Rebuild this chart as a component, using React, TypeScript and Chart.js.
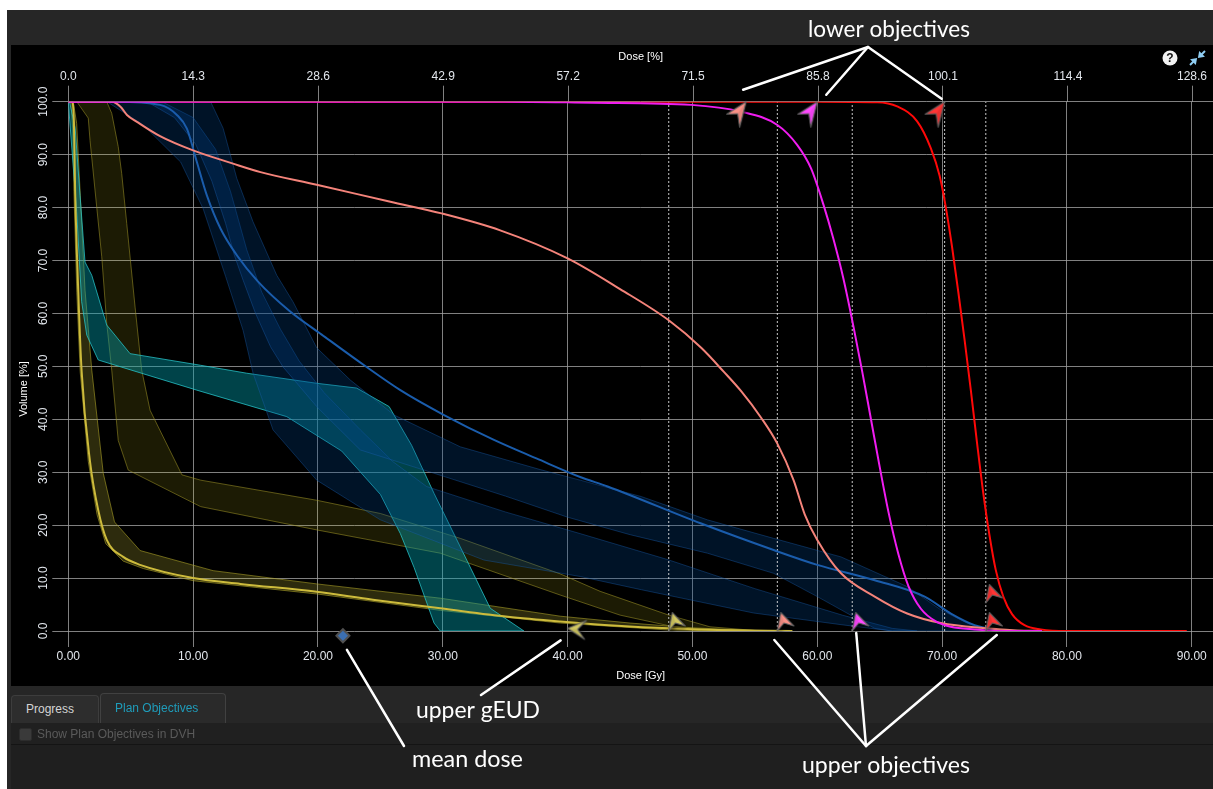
import React, { useEffect, useRef } from 'react';
import { Chart, registerables } from 'chart.js';

Chart.register(...registerables);

// ---------------- axes ----------------
const DOSE_MAX = 91.7; // Gy at the right edge of the plot
const PRESCRIPTION_GY = 70; // dose that equals 100 %
const doseTicks = [0, 10, 20, 30, 40, 50, 60, 70, 80, 90];
const pctTicks = [0, 14.3, 28.6, 42.9, 57.2, 71.5, 85.8, 100.1, 114.4, 128.6];
const volumeTicks = [0, 10, 20, 30, 40, 50, 60, 70, 80, 90, 100];

// ---------------- DVH lines [dose Gy, volume %] ----------------
const redLine = [[0, 100], [60, 100], [64.8, 99.9], [66.4, 99.1], [68, 96.3], [69.1, 91.2], [69.8, 86], [70.3, 80], [70.8, 72.5], [71.3, 64], [71.8, 55], [72.3, 45.5], [72.8, 35.5], [73.3, 26], [73.8, 18], [74.3, 11.5], [74.9, 6.5], [75.6, 3.2], [76.6, 1.1], [77.9, 0.3], [80, 0], [89.6, 0]];
const magentaLine = [[0, 100], [35, 100], [42, 99.8], [49.9, 99.4], [53.9, 98.1], [56.8, 95.6], [58.4, 91.8], [59.5, 87.4], [60.5, 80.5], [61.3, 74], [62.1, 66.5], [62.9, 57.5], [63.6, 49], [64.3, 40], [65.0, 31], [65.7, 22.5], [66.5, 14.5], [67.3, 8.5], [68.3, 4.2], [69.5, 1.8], [70.7, 0.8], [72.6, 0.3], [75, 0], [78, 0]];
const salmonLine = [[0, 100], [3.5, 100], [4.2, 99], [4.7, 97.5], [5.5, 96.2], [7.35, 93.5], [10, 90.8], [13.2, 88.3], [15.4, 86.7], [19.9, 84.3], [25.8, 81.1], [29.9, 78.9], [34.6, 75.7], [40, 70.4], [44.2, 64.6], [48.1, 58.7], [50.7, 53.5], [52.5, 49], [53.9, 45.3], [55.5, 40.3], [56.8, 35.4], [58.1, 28.5], [59, 22], [60, 17.2], [61.9, 10.9], [64.6, 6.5], [67.2, 3.3], [69.9, 1.5], [73.6, 0.5], [76, 0.1], [78, 0]];
const blueLine = [[0, 100], [3.75, 100], [7.35, 99.4], [8.7, 97.5], [9.5, 94.9], [10.3, 88.6], [11.1, 82.3], [12.2, 76], [13.5, 71], [15.2, 66], [17.7, 60.5], [20.3, 56], [23.7, 50.2], [26.6, 45.5], [30.1, 40.8], [34.1, 36.1], [37.5, 32.6], [41.0, 29.1], [43.2, 27.3], [50.7, 20.3], [56.5, 15.3], [60, 12.5], [64.6, 9.6], [68.6, 6.5], [70.7, 3.3], [72.6, 1.1], [73.6, 0.5], [74.5, 0]];
const yellowLine = [[0, 100], [0.3, 100], [0.45, 96], [0.55, 83], [0.8, 64], [1.07, 49], [1.74, 32], [2.4, 22.8], [3.08, 17.2], [4.4, 14], [5.75, 12.5], [10, 10], [13.8, 8.9], [19.9, 7.4], [24.4, 5.9], [29.8, 4.3], [35.2, 2.7], [39.4, 1.8], [44, 1.0], [48.1, 0.5], [52, 0.2], [58, 0]];

// ---------------- uncertainty bands (upper / lower edges) ----------------
const yellowNarrowUpper = [[0, 100], [0.4, 100], [0.67, 95.9], [0.94, 83.3], [1.34, 64.4], [1.88, 49.3], [2.8, 29.8], [3.7, 20.6], [5.75, 15.2], [11.6, 11.4], [19.9, 8.9], [29.8, 6.2], [39.4, 2.8], [45, 1.5], [50, 0.6], [55, 0.1], [58, 0]];
const yellowNarrowLower = [[0, 100], [0.2, 100], [0.35, 95], [0.45, 83], [0.68, 64], [0.95, 49], [1.6, 32], [2.3, 22], [3.0, 16.5], [4.4, 13.2], [6, 11.8], [10, 9.5], [19.9, 7.0], [29.8, 3.9], [39.4, 1.5], [48, 0.2], [52, 0]];
const oliveUpper = [[0, 100], [3.08, 100], [3.48, 97.8], [4.0, 91.5], [4.28, 86.4], [4.68, 77], [5.35, 61.2], [5.88, 49.3], [6.55, 41.7], [9.1, 29.5], [10.6, 28.5], [19.9, 24.7], [25, 22.2], [31.4, 17.5], [39.4, 10.8], [42.6, 7.5], [48.1, 3], [51.4, 0.8], [55.5, 0]];
const oliveLower = [[0, 100], [0.68, 100], [1.6, 96.9], [1.74, 92.7], [2.14, 83.3], [2.68, 70.7], [3.08, 58.1], [3.48, 49.3], [4.0, 36], [4.8, 30.4], [10.6, 23.5], [19.9, 19.1], [25.3, 16.7], [29.8, 14.7], [39.4, 6.8], [44.2, 3], [48.1, 1], [50.7, 0]];
const tealUpper = [[0, 100], [0.1, 100], [0.55, 95], [0.94, 82.3], [1.34, 69.7], [1.88, 67.2], [3.08, 57.8], [4.95, 52.4], [10.6, 50.2], [14.3, 48.7], [19.9, 46.8], [23.1, 45.9], [25.7, 42.4], [27.5, 35.1], [29.3, 26], [31.4, 15.9], [33.8, 4.3], [36.5, 0]];
const tealLower = [[0, 100], [0.67, 79.2], [1.07, 62.2], [1.48, 55.9], [2.4, 51.2], [10.3, 45.5], [17.5, 40.5], [21.9, 34], [25.0, 25.8], [26.6, 18.4], [27.7, 12], [29.3, 1.5], [29.8, 0]];
const blueOuterUpper = [[0, 100], [11.4, 100], [12.4, 95], [13.5, 85.5], [14.8, 77.3], [16.7, 67.2], [18.0, 62.2], [19.9, 53.5], [22.6, 47.4], [26.1, 40.8], [31.4, 34.8], [37.8, 30.5], [41, 28.5], [45.9, 25.4], [51.2, 21], [56.5, 17.5], [61.9, 14], [67.2, 8.4], [69.9, 4.0], [72, 1.5], [73.6, 0]];
const blueOuterLower = [[0, 100], [6.3, 100], [8.5, 97], [10.2, 92], [11.5, 85], [12.6, 77], [13.3, 71], [14.0, 66.3], [15.0, 60], [16.2, 53.7], [17.2, 49.9], [19.9, 42.4], [23.4, 34.2], [29.3, 29.8], [35, 25.5], [40, 21.5], [45, 18.2], [51.2, 14.7], [56.5, 10.9], [60, 6.5], [62.9, 2.7], [64.6, 0.5], [66, 0]];
const blueInnerUpper = [[0, 100], [7.5, 100], [10, 97], [11.8, 91], [13.0, 83], [14.3, 72], [15.5, 64], [17.0, 57], [18.5, 51], [20.5, 45], [23.4, 38], [26, 32], [28.7, 27.3], [35, 22.5], [41, 18.4], [48, 13.5], [55, 8], [62, 3], [66, 0.5], [68, 0]];
const blueInnerLower = [[0, 100], [3.1, 100], [6.0, 95.6], [9.0, 88.6], [10.8, 79.8], [12.6, 67], [14.0, 56.8], [14.8, 48.7], [16.4, 38], [19.9, 28.5], [25.0, 21], [29.8, 16.6], [33.3, 13.4], [41, 10.3], [45.9, 7.8], [54.9, 3.4], [61.9, 1.2], [64.6, 0.4], [66, 0]];

// ---------------- objectives ----------------
const objectiveLineDoses = [48.1, 56.8, 62.8, 70.2, 73.5];
const lowerObjectives = [[54.3, 100], [60.0, 100], [70.2, 100]];
const lowerObjectiveColors = ['#fa9086', '#ff48ff', '#ff3434'];
const upperObjectives = [[48.1, 0], [56.8, 0], [62.8, 0], [73.5, 5.3], [73.5, 0]];
const upperObjectiveColors = ['#d2c862', '#fa9086', '#ff48ff', '#ff3434', '#ff3434'];
const upperGeud = [[40.0, 0.5]];
const meanDose = [[22.0, -0.9]];

// ---------------- colours ----------------
const RED = '#ff0808';
const MAGENTA = '#f01cf0';
const SALMON = '#f4837a';
const BLUE = '#1a5cab';
const YELLOW = '#cdbb3c';
const GRID = 'rgba(160,160,160,0.8)';
const TICK_TEXT = '#e2e6ec';
const FONT = 'Arial, "Liberation Sans", sans-serif';

type Pt = number[];
const toXY = (pts: Pt[]) => pts.map(([x, y]) => ({ x, y }));

const LOWER_SHAPE = [[0, 0], [-19.5, 12.5], [-8.5, 12], [-6.5, 25.5]];
const UPPER_SHAPE = [[3.5, -18.5], [16.5, -5], [6.6, -8], [0, 0]];
const GEUD_SHAPE = [[0, 0], [19, -8], [10, 1], [17, 11]];

function makeIcon(color: string, shape: number[][]): HTMLCanvasElement {
  const S = 64;
  const c = document.createElement('canvas');
  c.width = S;
  c.height = S;
  const g = c.getContext('2d')!;
  g.translate(S / 2, S / 2);
  const path = () => {
    g.beginPath();
    shape.forEach(([x, y], i) => (i ? g.lineTo(x, y) : g.moveTo(x, y)));
    g.closePath();
  };
  g.save();
  g.shadowColor = 'rgba(0,0,0,0.95)';
  g.shadowBlur = 4;
  g.shadowOffsetX = 1;
  g.shadowOffsetY = 2;
  path();
  g.fillStyle = color;
  g.fill();
  g.restore();
  // shaded half for a 3D look
  g.save();
  path();
  g.clip();
  g.beginPath();
  g.moveTo(shape[0][0], shape[0][1]);
  g.lineTo(shape[2][0], shape[2][1]);
  g.lineTo(shape[3][0], shape[3][1]);
  g.closePath();
  g.fillStyle = 'rgba(0,0,0,0.08)';
  g.fill();
  g.restore();
  path();
  g.lineWidth = 1.1;
  g.lineJoin = 'round';
  g.strokeStyle = 'rgba(95,95,95,0.95)';
  g.stroke();
  return c;
}

export default function App() {
  const canvasRef = useRef<HTMLCanvasElement | null>(null);

  useEffect(() => {
    document.body.style.margin = '0';
    document.body.style.background = '#ffffff';
    const canvas = canvasRef.current;
    if (!canvas) return;

    const band = (label: string, upper: Pt[], lower: Pt[], fillColor: string, edge: string) => ({
      type: 'line' as const,
      label,
      data: toXY([...upper, ...[...lower].reverse()]),
      fill: 'shape',
      backgroundColor: fillColor,
      borderColor: edge,
      borderWidth: 1,
      pointRadius: 0,
      tension: 0,
      order: 20,
      xAxisID: 'x',
      yAxisID: 'y',
    });
    const dvh = (label: string, pts: Pt[], color: string, order: number) => ({
      type: 'line' as const,
      label,
      data: toXY(pts),
      borderColor: color,
      borderWidth: 2,
      pointRadius: 0,
      fill: false,
      cubicInterpolationMode: 'monotone' as const,
      order,
      xAxisID: 'x',
      yAxisID: 'y',
    });
    const dotted = objectiveLineDoses.map((d) => ({
      type: 'line' as const,
      label: 'objective ' + d,
      data: [{ x: d, y: 0 }, { x: d, y: 100 }],
      borderColor: 'rgba(235,235,235,0.85)',
      borderWidth: 1,
      borderDash: [2, 2],
      pointRadius: 0,
      fill: false,
      order: 12,
      xAxisID: 'x',
      yAxisID: 'y',
    }));

    const lowerIcons = lowerObjectiveColors.map((c) => makeIcon(c, LOWER_SHAPE));
    const upperIcons = upperObjectiveColors.map((c) => makeIcon(c, UPPER_SHAPE));
    const geudIcon = makeIcon('#d2c862', GEUD_SHAPE);

    const markerBase = {
      type: 'line' as const,
      showLine: false,
      pointRadius: 12,
      clip: false as const,
      order: 1,
      xAxisID: 'x',
      yAxisID: 'y',
    };

    const frame = {
      id: 'frame',
      beforeDraw(chart: any) {
        const ctx = chart.ctx as CanvasRenderingContext2D;
        const W = chart.width;
        const H = chart.height;
        ctx.save();
        ctx.fillStyle = '#ffffff';
        ctx.fillRect(0, 0, W, H);
        ctx.fillStyle = '#262626';
        ctx.fillRect(7, 10, W - 7, H - 10);
        ctx.fillStyle = '#000000';
        ctx.fillRect(11, 45, W - 11, 641);
        ctx.fillStyle = '#262626';
        ctx.fillRect(11, 686, W - 11, 37);
        ctx.fillStyle = '#202020';
        ctx.fillRect(11, 723, W - 11, 21);
        ctx.fillStyle = '#141414';
        ctx.fillRect(11, 744, W - 11, 1);
        ctx.fillStyle = '#1f1f1f';
        ctx.fillRect(11, 745, W - 11, H - 745);
        ctx.restore();
      },
    };

    const annotations = {
      id: 'annotations',
      afterDraw(chart: any) {
        const ctx = chart.ctx as CanvasRenderingContext2D;
        const xs = chart.scales.x;
        const ys = chart.scales.y;
        const px = (p: Pt) => [xs.getPixelForValue(p[0]), ys.getPixelForValue(p[1])];
        ctx.save();
        // y-axis title
        ctx.save();
        ctx.translate(24, 389);
        ctx.rotate(-Math.PI / 2);
        ctx.font = '11px ' + FONT;
        ctx.fillStyle = '#ffffff';
        ctx.textAlign = 'center';
        ctx.textBaseline = 'middle';
        ctx.fillText('Volume [%]', 0, 0);
        ctx.restore();

        // help icon
        ctx.beginPath();
        ctx.arc(1170, 58, 7.5, 0, Math.PI * 2);
        ctx.fillStyle = '#f2f2f2';
        ctx.fill();
        ctx.fillStyle = '#111';
        ctx.font = 'bold 12px ' + FONT;
        ctx.textAlign = 'center';
        ctx.textBaseline = 'middle';
        ctx.fillText('?', 1170, 58.5);
        // compress icon
        ctx.strokeStyle = '#8fcdf2';
        ctx.fillStyle = '#8fcdf2';
        ctx.lineWidth = 2;
        const arrow = (x0: number, y0: number, x1: number, y1: number) => {
          ctx.beginPath();
          ctx.moveTo(x0, y0);
          ctx.lineTo(x1, y1);
          ctx.stroke();
          const a = Math.atan2(y1 - y0, x1 - x0);
          ctx.beginPath();
          ctx.moveTo(x1 + Math.cos(a) * 3, y1 + Math.sin(a) * 3);
          ctx.lineTo(x1 + Math.cos(a + 2.2) * 5, y1 + Math.sin(a + 2.2) * 5);
          ctx.lineTo(x1 + Math.cos(a - 2.2) * 5, y1 + Math.sin(a - 2.2) * 5);
          ctx.closePath();
          ctx.fill();
        };
        arrow(1205, 51, 1200, 56);
        arrow(1190, 65, 1195, 60);

        // callout lines
        ctx.strokeStyle = '#ffffff';
        ctx.lineWidth = 2.5;
        ctx.lineCap = 'round';
        const seg = (a: number[], b: number[]) => {
          ctx.beginPath();
          ctx.moveTo(a[0], a[1]);
          ctx.lineTo(b[0], b[1]);
          ctx.stroke();
        };
        const lowerApex = [868, 47];
        const lowerOffsets = [[-3, -12], [9, -7], [-3, -3]];
        lowerObjectives.forEach((p, i) => {
          const [x, y] = px(p);
          seg(lowerApex, [x + lowerOffsets[i][0], y + lowerOffsets[i][1]]);
        });
        const upperApex = [866, 746];
        const upperTargets = [1, 2, 4];
        const upperOffsets = [[-3, 9], [4, 2], [11, 4]];
        upperTargets.forEach((idx, i) => {
          const [x, y] = px(upperObjectives[idx]);
          seg(upperApex, [x + upperOffsets[i][0], y + upperOffsets[i][1]]);
        });
        const [gx, gy] = px(upperGeud[0]);
        seg([481, 695], [gx - 7, gy + 12]);
        const [mx, my] = px(meanDose[0]);
        seg([404, 746], [mx + 4, my + 14]);

        // callout texts
        const label = (text: string, x: number, baseline: number, width: number) => {
          ctx.font = '20px Lato, "Open Sans", sans-serif';
          const w = ctx.measureText(text).width;
          const size = (20 * width) / w;
          ctx.font = size.toFixed(2) + 'px Lato, "Open Sans", sans-serif';
          ctx.fillStyle = '#ffffff';
          ctx.textAlign = 'left';
          ctx.textBaseline = 'alphabetic';
          ctx.fillText(text, x, baseline);
        };
        label('lower objectives', 808, 37, 162);
        label('upper gEUD', 416, 718, 124);
        label('mean dose', 412, 767, 111);
        label('upper objectives', 802, 773, 168);
        ctx.restore();
      },
    };

    const chart = new Chart(canvas, {
      type: 'line',
      data: {
        datasets: [
          band('PTV band outer', blueOuterUpper, blueOuterLower, 'rgba(0,70,140,0.28)', 'rgba(25,95,175,0.4)'),
          band('PTV band inner', blueInnerUpper, blueInnerLower, 'rgba(0,70,140,0.28)', 'rgba(25,95,175,0.4)'),
          band('teal band', tealUpper, tealLower, 'rgba(0,160,175,0.42)', 'rgba(40,200,205,0.75)'),
          band('olive band', oliveUpper, oliveLower, 'rgba(200,190,30,0.14)', 'rgba(160,150,40,0.55)'),
          band('yellow band', yellowNarrowUpper, yellowNarrowLower, 'rgba(205,195,60,0.22)', 'rgba(170,160,40,0.6)'),
          ...dotted,
          dvh('red', redLine, RED, 7),
          dvh('salmon', salmonLine, SALMON, 6),
          dvh('blue', blueLine, BLUE, 6),
          dvh('yellow', yellowLine, YELLOW, 6),
          dvh('magenta', magentaLine, MAGENTA, 5),
          { ...markerBase, label: 'lower objectives', data: toXY(lowerObjectives), pointStyle: lowerIcons },
          { ...markerBase, label: 'upper objectives', data: toXY(upperObjectives), pointStyle: upperIcons },
          { ...markerBase, label: 'upper gEUD', data: toXY(upperGeud), pointStyle: geudIcon },
          {
            ...markerBase,
            label: 'mean dose',
            data: toXY(meanDose),
            pointStyle: 'rectRot',
            pointRadius: 6.5,
            pointBackgroundColor: '#3b6fb2',
            pointBorderColor: '#505050',
            pointBorderWidth: 2,
          },
        ] as any,
      },
      options: {
        animation: false,
        responsive: false,
        devicePixelRatio: 1,
        events: [],
        layout: { autoPadding: false, padding: { left: 11, top: 45, right: 0, bottom: 103 } },
        plugins: { legend: { display: false }, tooltip: { enabled: false } },
        scales: {
          x: {
            type: 'linear',
            position: 'bottom',
            min: 0,
            max: DOSE_MAX,
            afterBuildTicks: (s: any) => {
              s.ticks = doseTicks.map((v) => ({ value: v }));
            },
            afterFit: (s: any) => {
              s.height = 55;
            },
            ticks: {
              autoSkip: false,
              maxRotation: 0,
              color: TICK_TEXT,
              font: { size: 12, family: FONT },
              padding: 2.8,
              callback: (v: any) => Number(v).toFixed(2),
            },
            grid: { color: GRID, lineWidth: 1, tickLength: 16 },
            border: { display: false },
            title: {
              display: true,
              text: 'Dose [Gy]',
              color: '#ffffff',
              font: { size: 11, family: FONT },
              padding: { top: 0, bottom: 3.4 },
            },
          },
          x2: {
            type: 'linear',
            position: 'top',
            min: 0,
            max: (DOSE_MAX * 100) / PRESCRIPTION_GY,
            afterBuildTicks: (s: any) => {
              s.ticks = pctTicks.map((v) => ({ value: v }));
            },
            afterFit: (s: any) => {
              s.height = 56.7;
            },
            ticks: {
              autoSkip: false,
              maxRotation: 0,
              color: TICK_TEXT,
              font: { size: 12, family: FONT },
              padding: 1.5,
              callback: (v: any) => Number(v).toFixed(1),
            },
            grid: { color: GRID, lineWidth: 1, tickLength: 16, drawOnChartArea: false },
            border: { display: false },
            title: {
              display: true,
              text: 'Dose [%]',
              color: '#ffffff',
              font: { size: 11, family: FONT },
              padding: { top: 5.4, bottom: 0 },
            },
          },
          y: {
            type: 'linear',
            position: 'left',
            min: 0,
            max: 100,
            afterBuildTicks: (s: any) => {
              s.ticks = volumeTicks.map((v) => ({ value: v }));
            },
            afterFit: (s: any) => {
              s.width = 57.3;
            },
            ticks: {
              minRotation: 90,
              maxRotation: 90,
              crossAlign: 'center',
              color: TICK_TEXT,
              font: { size: 12, family: FONT },
              padding: -6.7,
              callback: (v: any) => Number(v).toFixed(1),
            },
            grid: { color: GRID, lineWidth: 1, tickLength: 16 },
            border: { display: false },
          },
        },
      } as any,
      plugins: [frame, annotations],
    });

    return () => chart.destroy();
  }, []);

  const uiFont = '12px Arial, "Liberation Sans", sans-serif';
  return (
    <div style={{ position: 'relative', width: 1213, height: 789, overflow: 'hidden' }}>
      <canvas ref={canvasRef} width={1213} height={789} style={{ position: 'absolute', left: 0, top: 0 }} />
      <div
        style={{
          position: 'absolute', left: 11, top: 695, width: 88, height: 28, boxSizing: 'border-box',
          background: '#2d2d2d', border: '1px solid #3d3d3d', borderBottom: 'none', borderRadius: '4px 4px 0 0',
          color: '#d4d4d4', font: uiFont, lineHeight: '26px', paddingLeft: 14,
        }}
      >
        Progress
      </div>
      <div
        style={{
          position: 'absolute', left: 100, top: 693, width: 126, height: 30, boxSizing: 'border-box',
          background: '#2a2a2a', border: '1px solid #414141', borderBottom: 'none', borderRadius: '4px 4px 0 0',
          color: '#1f9cba', font: uiFont, lineHeight: '29px', paddingLeft: 14,
        }}
      >
        Plan Objectives
      </div>
      <div
        style={{
          position: 'absolute', left: 19, top: 728, width: 13, height: 13, boxSizing: 'border-box',
          background: '#3a3a3a', border: '1px solid #2c2c2c', borderRadius: 2,
        }}
      />
      <div style={{ position: 'absolute', left: 37, top: 726, color: '#5a5a5a', font: uiFont, lineHeight: '16px' }}>
        Show Plan Objectives in DVH
      </div>
    </div>
  );
}
